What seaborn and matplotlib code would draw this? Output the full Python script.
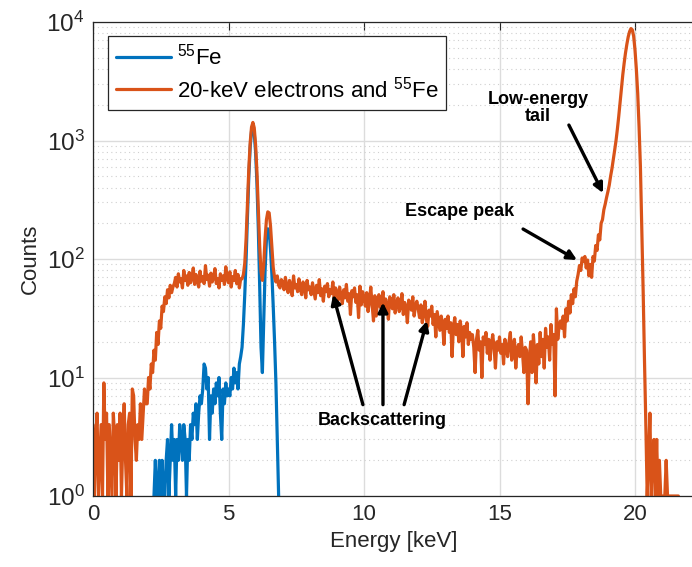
import numpy as np
import pandas as pd
import matplotlib
matplotlib.use("Agg")
import matplotlib.pyplot as plt
import seaborn as sns

# ---------------- data ----------------
E_STEP = 0.05            # keV per bin
E0_MIXED = 0.0           # first bin of the 20-keV electrons + 55Fe spectrum
E0_FE = 2.25             # first bin of the 55Fe spectrum

# 20-keV electrons and 55Fe, counts per bin, in segments
mixed_0_15 = [4, 1, 3, 5, 1, 2, 4, 1, 9, 3, 5, 1, 4, 2, 1, 5, 3, 1, 4, 2,
              5, 1, 3, 6, 2, 1, 4, 5, 1, 8]
mixed_15_2 = [7, 3, 2, 4, 3, 6, 3, 5, 8, 6]
mixed_2_3 = [6, 10, 8, 13, 11, 17, 14, 24, 19, 30, 26, 40, 36, 48, 42, 55, 47, 60, 52, 58]
mixed_3_55 = [62, 70, 58, 75, 64, 68, 57, 80, 66, 72, 60, 77, 63, 69, 84, 61, 74, 66, 58, 79,
              65, 71, 62, 88, 67, 73, 59, 76, 64, 70, 83, 62, 68, 57, 75, 66, 72, 61, 86, 69,
              63, 78, 58, 71, 66, 80, 62, 74, 57, 68]
mixed_55_7 = [68, 74, 92, 150, 300, 580, 960, 1300, 1420, 1280, 920, 540, 270, 130, 78,
              66, 90, 150, 215, 250, 245, 190, 125, 85, 70, 64, 72, 60, 57, 67]
mixed_7_10 = [63, 55, 70, 58, 52, 66, 60, 49, 72, 57, 61, 53, 68, 56, 50, 64, 59, 47, 66, 55,
              58, 50, 63, 54, 46, 60, 52, 67, 49, 56, 44, 59, 53, 62, 48, 55, 51, 64, 47, 57,
              52, 45, 58, 49, 42, 55, 47, 61, 44, 51, 34, 54, 48, 57, 43, 50, 32, 59, 41, 53]
mixed_10_12 = [47, 40, 52, 36, 44, 58, 41, 30, 49, 33, 45, 50, 39, 43, 53, 37, 46, 41, 31, 48,
               44, 38, 50, 35, 42, 47, 36, 40, 51, 34, 43, 39, 29, 45, 41, 37, 48, 33, 40, 44]
mixed_12_14 = [38, 32, 41, 29, 35, 44, 31, 27, 37, 33, 40, 28, 34, 22, 36, 30, 25, 33, 28, 19,
               31, 26, 33, 24, 29, 15, 27, 32, 23, 28, 20, 30, 25, 15, 27, 22, 29, 19, 24, 21]
mixed_14_16 = [23, 18, 11, 21, 25, 17, 20, 10, 22, 19, 24, 16, 21, 14, 19, 23, 18, 12, 20, 17,
               22, 16, 19, 13, 21, 18, 15, 20, 24, 14, 18, 21, 12, 17, 19, 15, 22, 16, 11, 18]
mixed_16_173 = [17, 6, 14, 20, 11, 23, 16, 9, 19, 13, 24, 15, 21, 12, 26, 18, 22, 14, 28, 19,
                23, 7, 38, 21, 27, 30]
mixed_173_19 = [26, 33, 22, 38, 30, 44, 35, 50, 42, 56, 48, 65, 74, 88, 80, 102, 95, 105, 84, 98,
                72, 90, 70, 105, 96, 130, 118, 160, 145, 200, 215, 260, 290, 330]
mixed_19_205 = [370, 420, 500, 580, 690, 830, 1000, 1250, 1600, 2100, 2800, 3600, 4500, 5500,
                6500, 7500, 8300, 8800, 8600, 7600, 5800, 4000, 2500, 1300, 600, 180, 55, 14, 4, 1]
mixed_205_22 = [2, 5, 1, 2, 3, 1, 3, 1, 2, 1, 1, 1, 1, 2, 1, 1, 1, 1, 1, 1, 1, 1, 1]

# 55Fe only, counts per bin
fe_2_35 = [1, 2, 1, 1, 2, 1, 2, 1, 1, 2, 3, 1, 2, 4, 2, 3, 1, 3, 2, 4, 3, 2, 4, 3, 1, 3]
fe_35_4 = [2, 4, 3, 5, 4, 6, 3, 5, 7, 6]
fe_4_45 = [8, 13, 12, 8, 10, 3, 7, 5, 8, 6]
fe_45_5 = [9, 7, 10, 5, 3, 8, 6, 9, 7, 8]
fe_5_55 = [7, 10, 8, 12, 9, 11, 8, 13, 15, 18]
fe_55_7 = [28, 50, 100, 230, 500, 880, 1200, 1280, 1150, 800, 430, 180, 60, 18, 11,
           30, 80, 145, 180, 175, 120, 75, 40, 20, 9, 3, 1]

labels = [r"$^{55}$Fe", r"20-keV electrons and $^{55}$Fe"]
colors = ["#0072BD", "#D95319"]

mixed = np.array(mixed_0_15 + mixed_15_2 + mixed_2_3 + mixed_3_55 + mixed_55_7 + mixed_7_10 +
                 mixed_10_12 + mixed_12_14 + mixed_14_16 + mixed_16_173 + mixed_173_19 +
                 mixed_19_205 + mixed_205_22, dtype=float)
fe = np.array(fe_2_35 + fe_35_4 + fe_4_45 + fe_45_5 + fe_5_55 + fe_55_7, dtype=float)
E_mixed = np.round(E0_MIXED + E_STEP * np.arange(len(mixed)), 3)
E_fe = np.round(E0_FE + E_STEP * np.arange(len(fe)), 3)

df_fe = pd.DataFrame({"Energy": E_fe, "Counts": fe})
df_mix = pd.DataFrame({"Energy": E_mixed, "Counts": mixed})

# ---------------- styling ----------------
sns.set_theme(style="white")
plt.rcParams["font.family"] = ["Liberation Sans", "DejaVu Sans"]
plt.rcParams["mathtext.fontset"] = "custom"
plt.rcParams["mathtext.rm"] = "Liberation Sans"
plt.rcParams["mathtext.it"] = "Liberation Sans:italic"
plt.rcParams["mathtext.bf"] = "Liberation Sans:bold"

axcol = "#262626"
fig = plt.figure(figsize=(6.92, 5.67), dpi=100)
# x scale: 27.1 px per keV starting at x=93 px; the right frame edge falls off the canvas
ax = fig.add_axes([93 / 692, 1 - 496 / 567, 602 / 692, 474 / 567])

sns.lineplot(data=df_fe, x="Energy", y="Counts", ax=ax, color=colors[0], lw=2.3,
             label=labels[0], estimator=None, sort=False)
sns.lineplot(data=df_mix, x="Energy", y="Counts", ax=ax, color=colors[1], lw=2.3,
             label=labels[1], estimator=None, sort=False)

ax.set_yscale("log")
ax.set_xlim(0, 602 / 27.1)
ax.set_ylim(1, 1e4)
ax.set_xticks([0, 5, 10, 15, 20])
ax.set_xlabel("Energy [keV]", fontsize=16, color=axcol, labelpad=4)
ax.set_ylabel("Counts", fontsize=16, color=axcol, labelpad=4)

ax.grid(True, which="major", color="#dcdcdc", lw=1, ls="-")
ax.yaxis.grid(True, which="minor", color="#cfcfcf", lw=0.8, ls=(0, (1, 3)))
ax.xaxis.grid(False, which="minor")
ax.set_axisbelow(True)

ax.tick_params(which="both", direction="in", top=True, right=False, colors=axcol, width=0.8)
ax.tick_params(axis="x", labelsize=16)
ax.tick_params(axis="y", labelsize=17.5)
ax.tick_params(which="major", length=6, pad=6)
ax.tick_params(which="minor", length=3)
ax.minorticks_on()
ax.xaxis.set_minor_locator(matplotlib.ticker.NullLocator())
for s in ax.spines.values():
    s.set_color(axcol)
    s.set_linewidth(0.9)

leg = ax.legend(loc="upper left", bbox_to_anchor=(15 / 602, 1 - 14 / 474), borderaxespad=0,
                fontsize=16, frameon=True, fancybox=False, framealpha=1,
                edgecolor=axcol, handlelength=2.5, handletextpad=0.25, labelspacing=0.3,
                borderpad=0.35)
leg.get_frame().set_linewidth(0.9)
for t in leg.get_texts():
    t.set_color("black")

# ---------------- annotations ----------------
arrow = dict(arrowstyle="-|>", color="black", lw=2.4, mutation_scale=14,
             shrinkA=0, shrinkB=0)
txt = dict(fontsize=13, fontweight="bold", color="black", ha="center", va="center")

ax.text(16.42, 1880, "Low-energy\ntail", linespacing=0.95, **txt)
ax.annotate("", xy=(18.82, 360), xytext=(17.56, 1350), arrowprops=arrow)

ax.text(13.54, 250, "Escape peak", **txt)
ax.annotate("", xy=(17.86, 98), xytext=(15.87, 179), arrowprops=arrow)

ax.text(10.66, 4.37, "Backscattering", **txt)
for (tx, ty), (hx, hy) in [((9.96, 5.9), (8.86, 50)),
                           ((10.70, 5.9), (10.70, 43)),
                           ((11.48, 5.9), (12.32, 30))]:
    ax.annotate("", xy=(hx, hy), xytext=(tx, ty), arrowprops=arrow)

fig.savefig("out.png", dpi=100)
